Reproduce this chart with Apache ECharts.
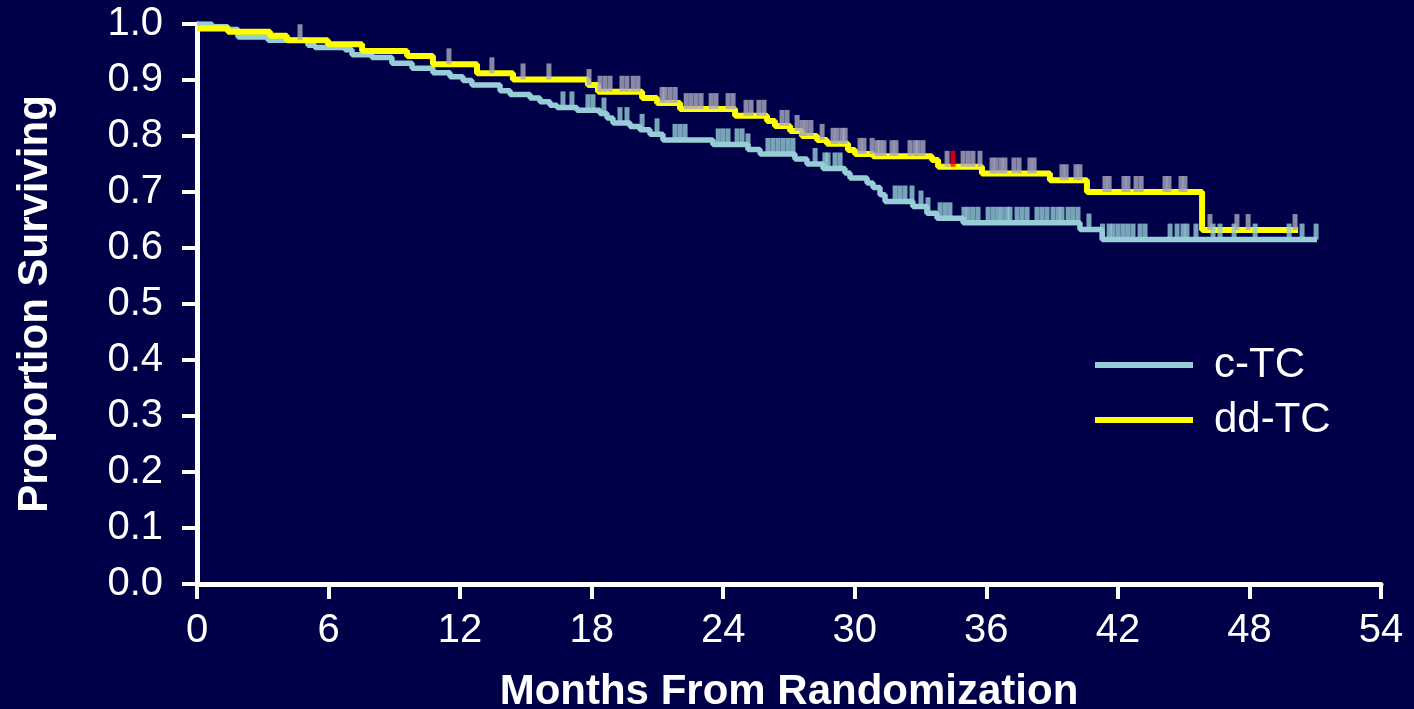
<!DOCTYPE html>
<html>
<head>
<meta charset="utf-8">
<script src="https://cdn.jsdelivr.net/npm/echarts@6/dist/echarts.min.js"></script>
<style>
html,body{margin:0;padding:0;background:#000048;}
#chart{width:1414px;height:709px;}
</style>
</head>
<body>
<div id="chart"></div>
<script>
// Kaplan-Meier step data (months, proportion surviving)
const ctcTime = [0, 0.68, 1.41, 1.87, 3.24, 5.06, 5.38, 6.75, 7.07, 7.98, 8.89, 9.81, 10.76, 11.54, 12.13, 12.54, 13.82, 14.28, 15.19, 15.64, 16.10, 16.42, 17.33, 18.38, 18.70, 18.97, 19.75, 20.20, 20.66, 21.25, 23.53, 25.13, 25.68, 27.27, 27.82, 28.55, 29.55, 29.78, 30.56, 30.83, 31.15, 31.38, 32.65, 33.29, 33.75, 34.94, 40.27, 41.28, 51.08];
const ctcSurv = [1.000, 0.995, 0.990, 0.977, 0.971, 0.962, 0.958, 0.954, 0.945, 0.940, 0.930, 0.921, 0.913, 0.906, 0.899, 0.891, 0.881, 0.874, 0.868, 0.861, 0.855, 0.851, 0.846, 0.840, 0.832, 0.823, 0.817, 0.811, 0.803, 0.793, 0.785, 0.776, 0.768, 0.759, 0.750, 0.742, 0.734, 0.725, 0.716, 0.708, 0.695, 0.683, 0.674, 0.662, 0.653, 0.645, 0.633, 0.615, 0.615];
const ddTime = [0, 1.41, 3.33, 4.10, 5.97, 7.53, 9.58, 10.76, 12.77, 14.41, 17.83, 18.29, 20.30, 20.98, 22.03, 24.54, 26.00, 26.36, 27.05, 27.59, 28.28, 28.73, 29.69, 30.01, 30.83, 33.52, 33.80, 35.80, 38.90, 40.59, 45.84, 50.22];
const ddSurv = [0.992, 0.986, 0.979, 0.971, 0.964, 0.952, 0.943, 0.928, 0.912, 0.901, 0.891, 0.879, 0.868, 0.859, 0.848, 0.836, 0.827, 0.818, 0.809, 0.800, 0.793, 0.786, 0.775, 0.768, 0.764, 0.757, 0.745, 0.733, 0.721, 0.700, 0.632, 0.632];

// Censoring times (months)
const ctcCensor = [16.69, 17.10, 17.83, 18.06, 18.56, 19.29, 19.61, 20.30, 20.98, 21.80, 22.03, 22.26, 23.77, 23.99, 24.22, 24.63, 24.86, 25.13, 26.04, 26.27, 26.50, 26.73, 26.96, 27.18, 28.19, 28.64, 28.78, 29.10, 29.33, 31.84, 32.06, 32.29, 32.61, 33.02, 33.34, 33.89, 34.12, 34.34, 34.98, 35.17, 35.39, 35.62, 36.08, 36.31, 36.53, 36.72, 36.94, 37.08, 37.40, 37.63, 37.86, 38.31, 38.54, 38.77, 39.04, 39.27, 39.45, 39.73, 39.95, 40.18, 40.68, 41.30, 41.60, 41.78, 42.01, 42.24, 42.46, 42.69, 43.01, 43.24, 44.38, 44.70, 44.97, 45.15, 45.56, 46.34, 46.66, 47.30, 48.26, 49.81, 50.40, 51.04];
const ddCensor = [4.70, 11.49, 13.45, 14.87, 16.05, 17.88, 18.38, 18.61, 18.84, 19.38, 19.61, 19.89, 20.11, 21.21, 21.35, 21.58, 21.81, 22.31, 22.53, 22.76, 22.99, 23.45, 23.67, 24.22, 24.45, 25.04, 25.27, 25.63, 25.86, 26.68, 26.91, 27.37, 27.59, 27.78, 28.00, 28.51, 29.01, 29.19, 29.42, 29.56, 30.24, 30.42, 30.79, 31.01, 31.15, 31.33, 31.70, 31.88, 32.52, 32.75, 32.89, 33.11, 34.21, 34.94, 35.17, 35.39, 35.71, 36.26, 36.44, 36.67, 36.85, 37.26, 37.49, 37.99, 38.18, 39.45, 39.64, 40.09, 40.27, 41.41, 41.60, 42.28, 42.46, 42.83, 43.06, 44.15, 44.33, 44.88, 45.06, 46.20, 47.43, 47.94, 50.08];
const ddRedCensor = [34.48];

const xTicks = [0, 6, 12, 18, 24, 30, 36, 42, 48, 54];
const seriesNames = ['c-TC', 'dd-TC'];

const FONT = '"Liberation Sans", Arial, sans-serif';
const CYAN = '#96CDD6';
const YELLOW = '#FFFF00';
const GRAY = '#A9A9BE';

function pairs(t, s) { return t.map((v, i) => [v, s[i]]); }
function survAt(t, times, surv) {
  let v = surv[0];
  for (let i = 0; i < times.length; i++) { if (times[i] <= t) v = surv[i]; else break; }
  return v;
}
function censorPts(c, times, surv) { return c.map(t => [t, survAt(t, times, surv)]); }

const chart = echarts.init(document.getElementById('chart'), null, {renderer: 'canvas'});
const axisCommon = {
  axisLine: {show: true, lineStyle: {color: '#FFFFFF', width: 5}},
  axisTick: {show: true, inside: false, length: 15, lineStyle: {color: '#FFFFFF', width: 4}},
  splitLine: {show: false}
};
const censorSym = {type: 'scatter', symbol: 'rect', symbolSize: [5, 16], symbolOffset: [0, -8], silent: true, z: 4};

chart.setOption({
  backgroundColor: '#000048',
  animation: false,
  grid: {left: 197, top: 24, width: 1184, height: 560, containLabel: false, outerBoundsMode: 'none'},
  legend: {
    data: [{name: seriesNames[0], icon: 'rect'}, {name: seriesNames[1], icon: 'rect'}],
    orient: 'vertical', left: 1095, top: 344, itemWidth: 98, itemHeight: 6, itemGap: 13,
    padding: 0,
    textStyle: {color: '#FFFFFF', fontSize: 42, fontFamily: FONT, padding: [0, 0, 0, 16]},
    selectedMode: false
  },
  xAxis: Object.assign({}, axisCommon, {
    type: 'value', min: 0, max: 54, interval: 6,
    name: 'Months From Randomization', nameLocation: 'middle', nameGap: 87,
    nameTextStyle: {color: '#FFFFFF', fontSize: 42, fontWeight: 'bold', fontFamily: FONT},
    axisLabel: {color: '#FFFFFF', fontSize: 40, fontFamily: FONT, margin: 27,
      customValues: xTicks}
  }),
  yAxis: Object.assign({}, axisCommon, {
    type: 'value', min: 0, max: 1, interval: 0.1,
    name: 'Proportion Surviving', nameLocation: 'middle', nameGap: 141,
    nameTextStyle: {color: '#FFFFFF', fontSize: 42, fontWeight: 'bold', fontFamily: FONT},
    axisLabel: {color: '#FFFFFF', fontSize: 40, fontFamily: FONT, margin: 34,
      formatter: v => v.toFixed(1)}
  }),
  series: [
    {name: seriesNames[0], type: 'line', step: 'end', symbol: 'none', data: pairs(ctcTime, ctcSurv),
     lineStyle: {color: CYAN, width: 5.5}, itemStyle: {color: CYAN}, z: 2},
    {name: seriesNames[1], type: 'line', step: 'end', symbol: 'none', data: pairs(ddTime, ddSurv),
     lineStyle: {color: YELLOW, width: 6}, itemStyle: {color: YELLOW}, z: 3},
    Object.assign({}, censorSym, {name: 'c-TC censored', data: censorPts(ctcCensor, ctcTime, ctcSurv), itemStyle: {color: CYAN}}),
    Object.assign({}, censorSym, {name: 'dd-TC censored', data: censorPts(ddCensor, ddTime, ddSurv), itemStyle: {color: GRAY}}),
    Object.assign({}, censorSym, {name: 'dd-TC censored (red)', data: censorPts(ddRedCensor, ddTime, ddSurv), itemStyle: {color: '#FF0000'}})
  ]
});
</script>
</body>
</html>
